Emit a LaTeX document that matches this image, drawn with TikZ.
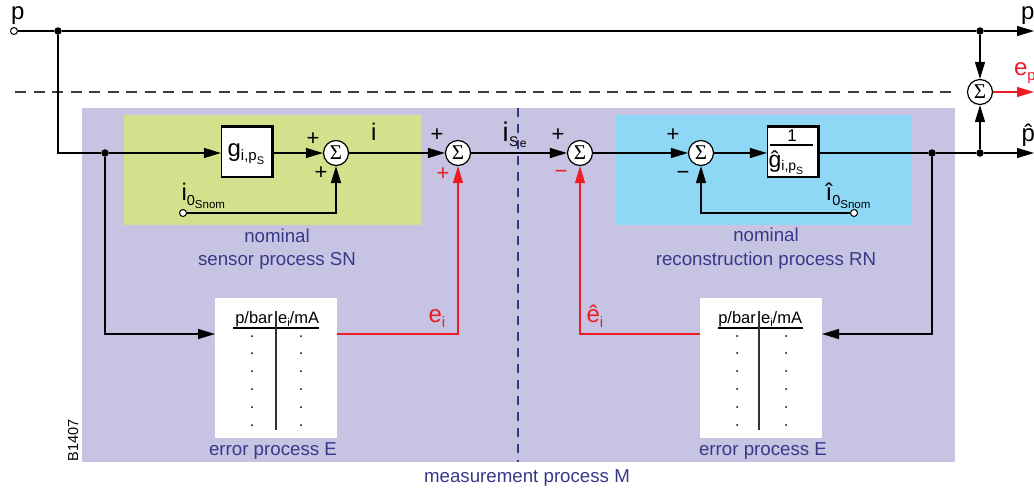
\documentclass[tikz,border=0pt]{standalone}
\usepackage{fontspec}
\setmainfont{Liberation Sans}
\newfontfamily\sigfont{Liberation Serif}
\usetikzlibrary{arrows.meta}
\definecolor{lav}{RGB}{198,196,226}
\definecolor{sgreen}{RGB}{212,224,139}
\definecolor{sblue}{RGB}{142,216,246}
\definecolor{dblue}{RGB}{56,56,138}
\definecolor{ered}{RGB}{237,28,36}
\definecolor{dgray}{RGB}{60,60,60}
\newcommand\fsz[1]{\fontsize{#1}{#1}\selectfont}
\newcommand\sbx[3]{\raisebox{-#1pt}{\fsz{#2}#3}}
\newcommand\phat{\ooalign{p\cr\hidewidth\char"02C6\hidewidth\cr}}
\begin{document}
\begin{tikzpicture}[x=1pt,y=-1pt,line width=1.2pt,
  arr/.style={-{Triangle[length=17pt,width=10pt]}},
  sumn/.style={circle,draw,fill=white,minimum size=25pt,inner sep=0pt,font=\sigfont\fsz{21}},
  dotn/.style={circle,fill=black,minimum size=7.5pt,inner sep=0pt},
  opn/.style={circle,draw,fill=white,minimum size=7pt,inner sep=0pt,line width=1pt},
  lab/.style={inner sep=0pt,font=\fsz{24},anchor=base west},
  sgn/.style={inner sep=0pt,font=\fsz{22}},
  blab/.style={inner sep=0pt,font=\fsz{18.7},text=dblue,anchor=base},
  thd/.style={inner sep=0pt,font=\fsz{16.5}},
  blk/.style={draw,fill=white,minimum width=50pt,minimum height=50pt,inner sep=0pt},
  tbl/.style={fill=white,minimum width=122pt,minimum height=140pt,inner sep=0pt},
]
\useasboundingbox (0,0) rectangle (1034,488);
% regions
\fill[lav] (82,108) rectangle (955,462);
\fill[sgreen] (124,115) rectangle (421,225);
\fill[sblue] (615,115) rectangle (912,225);
\draw[dblue,line width=1.5pt,dash pattern=on 9pt off 7pt] (518,108) -- (518,462);
% nodes
\node[opn] (pin) at (14,31) {};
\node[dotn] (d1) at (58,31) {};
\node[dotn] (d5) at (980,31) {};
\coordinate (pout) at (1034,31);
\node[sumn] (s5) at (980,92) {Σ};
\coordinate (epout) at (1034,92);
\coordinate (dl) at (15,92);
\coordinate (dr) at (955,92);
\node[dotn] (d2) at (105,153) {};
\node[blk] (gb) at (246.5,152) {};
\node[sumn] (s1) at (336,153) {Σ};
\node[sumn] (s2) at (458,153) {Σ};
\node[sumn] (s3) at (580,153) {Σ};
\node[sumn] (s4) at (701,153) {Σ};
\node[blk] (hb) at (792.5,152) {};
\node[dotn] (d3) at (932,153) {};
\node[dotn] (d4) at (980,153) {};
\coordinate (phout) at (1034,153);
\node[opn] (i0a) at (183,213) {};
\node[opn] (i0b) at (854,213) {};
\node[tbl] (t1) at (276,368) {};
\node[tbl] (t2) at (761,368) {};
\coordinate (t1in) at (215,334);
\coordinate (t1out) at (337,334);
\coordinate (t2in) at (822,334);
\coordinate (t2out) at (700,334);
% box shadows
\draw[line width=3pt] (gb.north west) -- (gb.north east) -- (gb.south east);
\draw[line width=3pt] (hb.north west) -- (hb.north east) -- (hb.south east);
% box contents
\node[lab] (gtext) at (227,156) {g\sbx{4}{15}{i,p}\sbx{8}{11}{S}};
\node[inner sep=0pt,font=\fsz{17},anchor=base] (one) at (792,141) {1};
\draw (770,145) -- (813,145);
\node[lab,font=\fsz{23}] (gh) at (768,167) {ĝ\sbx{3}{14}{i,p}\sbx{7}{10.5}{S}};
% connectors
\draw (pin) -- (d1) -- (d5);
\draw[arr] (d5) -- (pout);
\draw[dgray,dash pattern=on 11pt off 7.5pt] (dl) -- (dr);
\draw[arr] (d5) -- (s5);
\draw[arr] (d4) -- (s5);
\draw[arr,ered] (s5) -- (epout);
\draw (d1) |- (d2);
\draw[arr] (d2) -- (d2 -| gb.west);
\draw[arr] (s1 -| gb.east) -- (s1);
\draw[arr] (s1) -- (s2);
\draw[arr] (s2) -- (s3);
\draw[arr] (s3) -- (s4);
\draw[arr] (s4) -- (s4 -| hb.west);
\draw (d3 -| hb.east) -- (d3) -- (d4);
\draw[arr] (d4) -- (phout);
\draw[arr] (i0a) -| (s1);
\draw[arr] (i0b) -| (s4);
\draw[arr] (d2) |- (t1in);
\draw[arr] (d3) |- (t2in);
\draw[arr,ered] (t1out) -| (s2);
\draw[arr,ered] (t2out) -| (s3);
% tables
\foreach \vx/\ua/\ub/\ca/\cb in {276/233/319/24/25, 759/718/803/22/27}{
  \node[thd,anchor=base east] at (\vx-2.5,323) {p/bar};
  \node[thd,anchor=base west] at (\vx+1.5,323) {e\sbx{3}{11}{i}/mA};
  \draw (\ua,328) -- (\ub,328);
  \draw[line width=1.5pt,black!80] (\vx,311) -- (\vx,430);
  \foreach \yy in {336,353,371,389,407,425}{
    \fill (\vx-\ca,\yy) circle (1pt);
    \fill (\vx+\cb,\yy) circle (1pt);
  }
}
% labels
\node[lab] at (10.5,19.5) {p};
\node[lab] at (1020.5,19.5) {p};
\node[lab] at (1021,141) {\phat};
\node[lab,text=ered] at (1013.5,75) {e\sbx{5}{15}{p}};
\node[lab] at (370.5,140) {i};
\node[lab,font=\fsz{27}] at (502,141) {i\kern0.5pt\sbx{5}{14}{S}\kern1.5pt\sbx{6}{12}{e}};
\node[sgn] at (313,139) {+};
\node[sgn] at (321,173) {+};
\node[sgn] at (437,135) {+};
\node[sgn] at (558,135) {+};
\node[sgn] at (673,135) {+};
\node[sgn,text=ered] at (443,174) {+};
\node[sgn,text=ered] at (561,174) {−};
\node[sgn] at (683,175) {−};
\node[lab] at (181,200) {i\sbx{5}{14.5}{0}\sbx{8}{11.5}{Snom}};
\node[lab] at (825,200) {î\sbx{5}{14.5}{0}\sbx{8}{11.5}{Snom}};
\node[lab,text=ered] at (428,322) {e\sbx{5}{15}{i}};
\node[lab,text=ered] at (586,322) {ê\sbx{5}{15}{i}};
\node[blab] at (277,242) {nominal};
\node[blab] at (277,265) {sensor process SN};
\node[blab] at (766,241) {nominal};
\node[blab] at (766,265) {reconstruction process RN};
\node[blab] at (273,455) {error process E};
\node[blab] at (763,455) {error process E};
\node[blab] at (527,482) {measurement process M};
\node[inner sep=0pt,font=\fsz{14.5},rotate=90,anchor=base west] at (78,462) {B1407};
\end{tikzpicture}
\end{document}
